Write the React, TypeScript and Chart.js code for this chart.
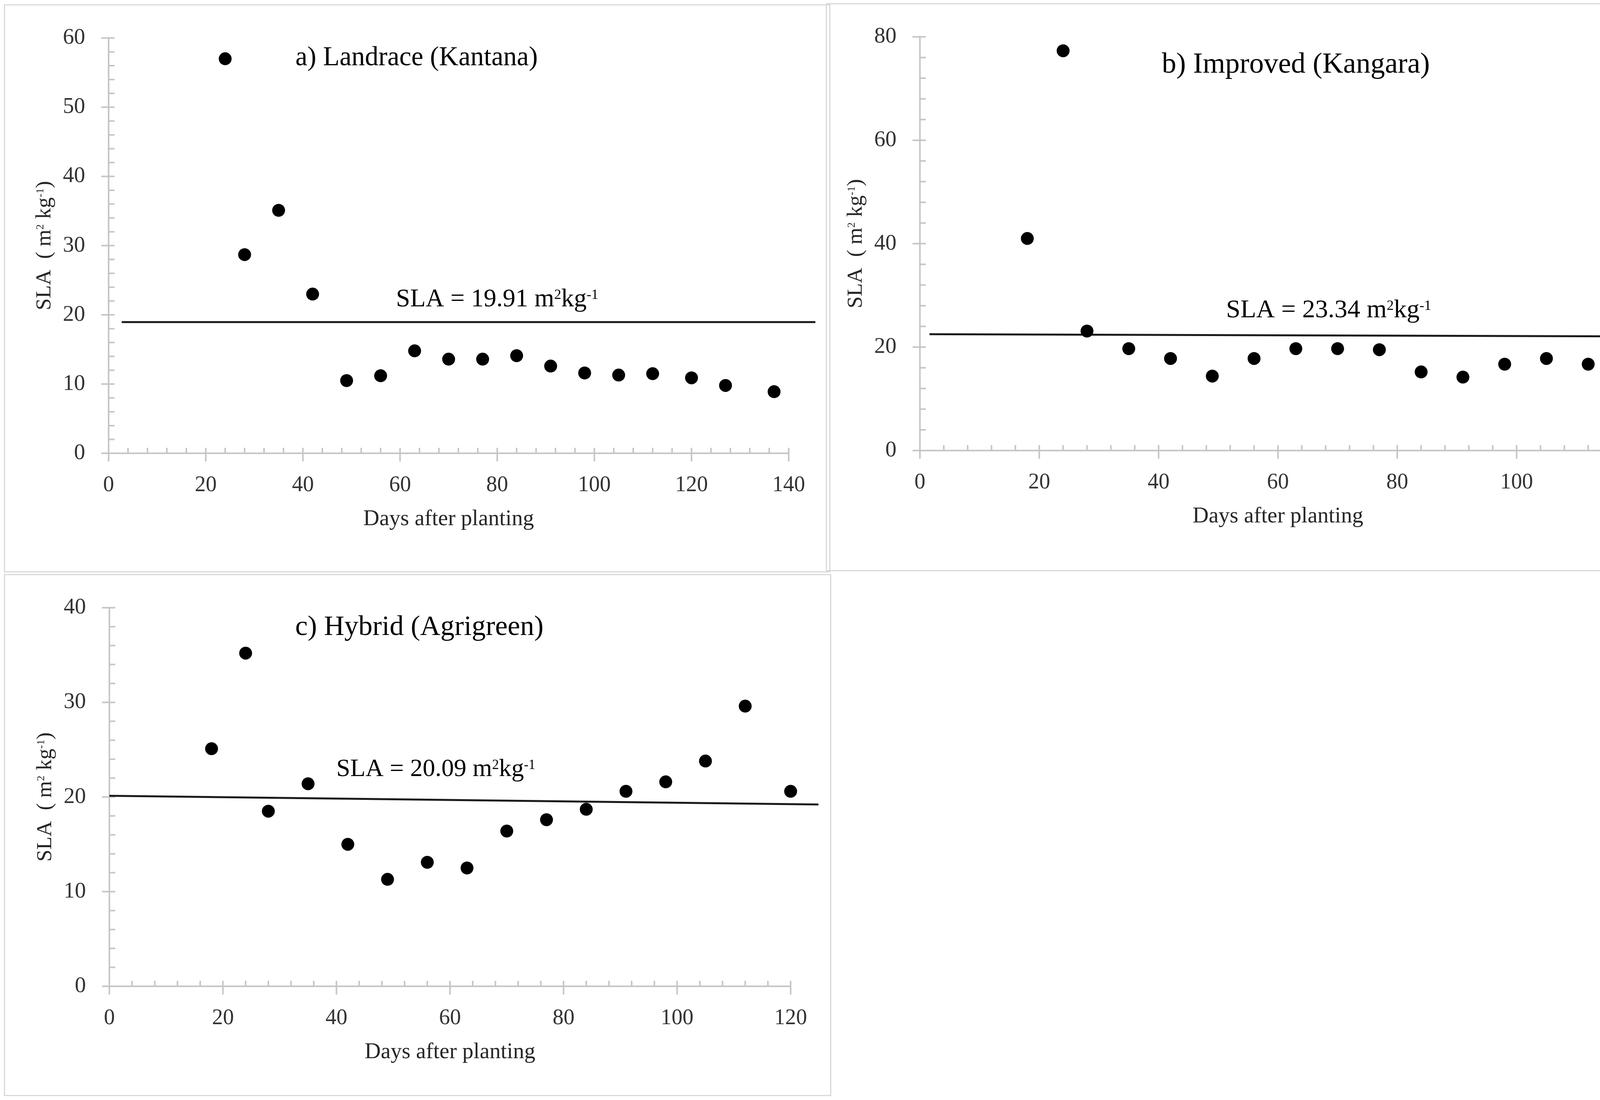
import React, { useEffect, useRef } from 'react';
import { Chart, registerables } from 'chart.js';

Chart.register(...registerables);

const SERIF = '"Liberation Serif", "Times New Roman", serif';
const AXIS = '#c6c6c6';

// ---- Panel a) Landrace (Kantana)
const daysA = [24, 28, 35, 42, 49, 56, 63, 70, 77, 84, 91, 98, 105, 112, 120, 127, 137];
const slaA = [57.0, 28.7, 35.1, 23.0, 10.5, 11.2, 14.8, 13.6, 13.6, 14.1, 12.6, 11.6, 11.3, 11.5, 10.9, 9.8, 8.9];
const trendDaysA = [2.7, 145.5];
const trendSlaA = [18.95, 18.95];

// ---- Panel b) Improved (Kangara)
const daysB = [18, 24, 28, 35, 42, 49, 56, 63, 70, 77, 84, 91, 98, 105, 112];
const slaB = [41.0, 77.3, 23.1, 19.7, 17.8, 14.4, 17.8, 19.7, 19.7, 19.5, 15.2, 14.2, 16.7, 17.8, 16.7];
const trendDaysB = [1.6, 127.1];
const trendSlaB = [22.5, 22.05];

// ---- Panel c) Hybrid (Agrigreen)
const daysC = [18, 24, 28, 35, 42, 49, 56, 63, 70, 77, 84, 91, 98, 105, 112, 120];
const slaC = [25.1, 35.2, 18.5, 21.4, 15.0, 11.3, 13.1, 12.5, 16.4, 17.6, 18.7, 20.6, 21.6, 23.8, 29.6, 20.6];
const trendDaysC = [0, 124.9];
const trendSlaC = [20.13, 19.21];

const xAxisLabel = 'Days after planting';
const meanA = '19.91';
const meanB = '23.34';
const meanC = '20.09';

type Seg = { t: string; sup?: boolean };

type Panel = {
  box: { left: number; top: number; width: number; height: number };
  area: { left: number; top: number; right: number; bottom: number };
  days: number[];
  sla: number[];
  trendDays: number[];
  trendSla: number[];
  xMax: number;
  yMax: number;
  yMajor: number;
  yMinor: number;
  title: string;
  titleAt: [number, number];
  titleSize: number;
  mean: string;
  meanAt: [number, number];
  meanSize: number;
};

const X_H = 200;

const panels: Panel[] = [
  {
    box: { left: 10, top: 11, width: 2116, height: 1454 },
    area: { left: 268, top: 41, right: 2009, bottom: 1149 },
    days: daysA, sla: slaA, trendDays: trendDaysA, trendSla: trendSlaA,
    xMax: 140, yMax: 60, yMajor: 10, yMinor: 2,
    title: 'a) Landrace (Kantana)', titleAt: [63.4, 57.1], titleSize: 69,
    mean: meanA, meanAt: [80.0, 22.2], meanSize: 65,
  },
  {
    box: { left: 2114, top: 8, width: 2188, height: 1454 },
    area: { left: 241, top: 44, right: 2074, bottom: 1145 },
    days: daysB, sla: slaB, trendDays: trendDaysB, trendSla: trendSlaB,
    xMax: 120, yMax: 80, yMajor: 20, yMinor: 4,
    title: 'b) Improved (Kangara)', titleAt: [63.0, 74.5], titleSize: 74,
    mean: meanB, meanAt: [68.5, 27.1], meanSize: 66,
  },
  {
    box: { left: 10, top: 1469, width: 2118, height: 1336 },
    area: { left: 270, top: 45, right: 2014, bottom: 1055 },
    days: daysC, sla: slaC, trendDays: trendDaysC, trendSla: trendSlaC,
    xMax: 120, yMax: 40, yMajor: 10, yMinor: 2,
    title: 'c) Hybrid (Agrigreen)', titleAt: [54.6, 37.9], titleSize: 72,
    mean: meanC, meanAt: [57.5, 22.9], meanSize: 64,
  },
];

function drawRich(
  ctx: CanvasRenderingContext2D,
  segs: Seg[],
  cx: number,
  cy: number,
  size: number,
  color: string,
  supScale: number,
  supRaise: number,
) {
  const main = `${size}px ${SERIF}`;
  const sup = `${Math.round(size * supScale)}px ${SERIF}`;
  let w = 0;
  for (const s of segs) {
    ctx.font = s.sup ? sup : main;
    w += ctx.measureText(s.t).width;
  }
  let x = cx - w / 2;
  ctx.textBaseline = 'middle';
  ctx.textAlign = 'left';
  ctx.fillStyle = color;
  for (const s of segs) {
    ctx.font = s.sup ? sup : main;
    ctx.fillText(s.t, x, s.sup ? cy - size * supRaise : cy);
    x += ctx.measureText(s.t).width;
  }
}

function makeDecor(p: Panel) {
  return {
    id: 'decor',
    beforeDatasetsDraw(chart: any) {
      const { ctx, chartArea: a, scales } = chart;
      const x = scales.x;
      const y = scales.y;
      ctx.save();
      ctx.strokeStyle = AXIS;
      ctx.lineWidth = 4;
      ctx.beginPath();
      for (let v = 0; v <= p.xMax + 1e-6; v += 4) {
        const px = x.getPixelForValue(v);
        const major = Math.abs(v / 20 - Math.round(v / 20)) < 1e-6;
        ctx.moveTo(px, a.bottom - 14);
        ctx.lineTo(px, major ? a.bottom + 21 : a.bottom);
      }
      for (let v = 0; v <= p.yMax + 1e-6; v += p.yMinor) {
        const py = y.getPixelForValue(v);
        const major = Math.abs(v / p.yMajor - Math.round(v / p.yMajor)) < 1e-6;
        ctx.moveTo(major ? a.left - 19 : a.left, py);
        ctx.lineTo(a.left + 15, py);
      }
      ctx.stroke();
      ctx.restore();
    },
    afterDatasetsDraw(chart: any) {
      const { ctx, chartArea: a, scales } = chart;
      const x = scales.x;
      const y = scales.y;
      ctx.save();
      // panel title
      ctx.font = `${p.titleSize}px ${SERIF}`;
      ctx.fillStyle = '#000';
      ctx.textAlign = 'center';
      ctx.textBaseline = 'middle';
      ctx.fillText(p.title, x.getPixelForValue(p.titleAt[0]), y.getPixelForValue(p.titleAt[1]));
      // mean label
      drawRich(
        ctx,
        [{ t: `SLA = ${p.mean} m` }, { t: '2', sup: true }, { t: 'kg' }, { t: '-1', sup: true }],
        x.getPixelForValue(p.meanAt[0]),
        y.getPixelForValue(p.meanAt[1]),
        p.meanSize,
        '#000',
        0.55,
        0.17,
      );
      // x axis title
      ctx.font = `57px ${SERIF}`;
      ctx.fillStyle = '#262626';
      ctx.textAlign = 'center';
      ctx.textBaseline = 'middle';
      ctx.fillText(xAxisLabel, (a.left + a.right) / 2, a.bottom + 169);
      // y axis title
      ctx.translate(a.left - 163, (a.top + a.bottom) / 2);
      ctx.rotate(-Math.PI / 2);
      drawRich(
        ctx,
        [{ t: 'SLA  ( m' }, { t: '2', sup: true }, { t: ' kg' }, { t: '-1', sup: true }, { t: ')' }],
        0,
        0,
        55,
        '#262626',
        0.5,
        0.2,
      );
      ctx.restore();
    },
  };
}

function PanelChart({ p }: { p: Panel }) {
  const ref = useRef<HTMLCanvasElement>(null);
  useEffect(() => {
    const canvas = ref.current;
    if (!canvas) return;
    const { box, area } = p;
    const chart = new Chart(canvas, {
      type: 'scatter',
      data: {
        datasets: [
          {
            type: 'line',
            data: p.trendDays.map((d, i) => ({ x: d, y: p.trendSla[i] })),
            borderColor: '#1a1a1a',
            borderWidth: 5,
            pointRadius: 0,
            fill: false,
            clip: false,
            order: 2,
          } as any,
          {
            type: 'scatter',
            data: p.days.map((d, i) => ({ x: d, y: p.sla[i] })),
            backgroundColor: '#000',
            borderColor: '#000',
            borderWidth: 0,
            pointRadius: 16.5,
            pointHoverRadius: 16.5,
            clip: false,
            order: 1,
          } as any,
        ],
      },
      options: {
        responsive: false,
        animation: false,
        devicePixelRatio: 1,
        events: [],
        layout: {
          padding: {
            left: 0,
            top: area.top,
            right: box.width - area.right,
            bottom: box.height - area.bottom - X_H,
          },
        },
        plugins: {
          legend: { display: false },
          tooltip: { enabled: false },
          title: { display: false },
        },
        scales: {
          x: {
            type: 'linear',
            position: 'bottom',
            min: 0,
            max: p.xMax,
            ticks: {
              stepSize: 20,
              padding: 41,
              autoSkip: false,
              maxRotation: 0,
              color: '#333',
              font: { family: SERIF, size: 56 },
            },
            grid: { display: false },
            border: { color: AXIS, width: 4 },
            afterFit: (s: any) => {
              s.height = X_H;
            },
          },
          y: {
            type: 'linear',
            position: 'left',
            min: 0,
            max: p.yMax,
            ticks: {
              stepSize: p.yMajor,
              padding: 52,
              autoSkip: false,
              color: '#333',
              font: { family: SERIF, size: 57 },
            },
            grid: { display: false },
            border: { color: AXIS, width: 4 },
            afterFit: (s: any) => {
              s.width = area.left;
            },
          },
        },
      } as any,
      plugins: [makeDecor(p)],
    });
    return () => chart.destroy();
  }, [p]);
  const { box } = p;
  return (
    <div style={{ position: 'absolute', left: box.left, top: box.top, width: box.width, height: box.height }}>
      <div
        style={{
          position: 'absolute',
          left: 0,
          top: 0,
          width: box.width,
          height: box.height,
          border: '3px solid #d9d9d9',
          boxSizing: 'border-box',
        }}
      />
      <canvas
        ref={ref}
        width={box.width}
        height={box.height}
        style={{ position: 'absolute', left: 0, top: 0, width: box.width, height: box.height }}
      />
    </div>
  );
}

export default function App() {
  return (
    <div style={{ position: 'absolute', left: 0, top: 0, width: 4312, height: 2815, background: '#fff', overflow: 'hidden' }}>
      {panels.map((p, i) => (
        <PanelChart key={i} p={p} />
      ))}
    </div>
  );
}
